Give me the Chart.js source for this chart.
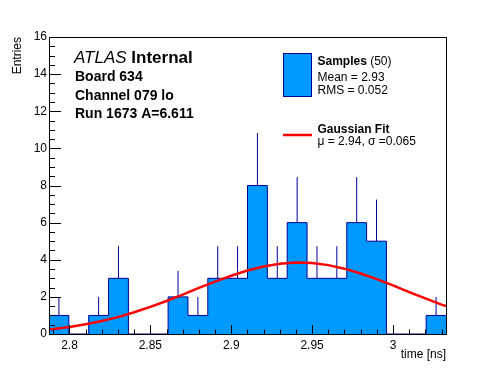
<!DOCTYPE html>
<html><head><meta charset="utf-8">
<script src="https://cdn.jsdelivr.net/npm/chart.js@4.4.1/dist/chart.umd.min.js"></script>
<style>html,body{margin:0;padding:0;background:#fff;}canvas{display:block;}</style>
</head><body>
<canvas id="c" width="496" height="372"></canvas>
<script>
// ---- data ----
const binLowEdges = [2.78733, 2.79960, 2.81187, 2.82415, 2.83642, 2.84869, 2.86096, 2.87323, 2.88551, 2.89778,
                     2.91005, 2.92232, 2.93459, 2.94687, 2.95914, 2.97141, 2.98368, 2.99595, 3.00823, 3.02050];
const binUpperEdge = 3.03277;
const counts = [1, 0, 1, 3, 0, 0, 2, 1, 3, 3, 8, 3, 6, 3, 3, 6, 5, 0, 0, 1];
const errors = [1, 0, 1, 1.73, 0, 0, 1.41, 1, 1.73, 1.73, 2.83, 1.73, 2.45, 1.73, 1.73, 2.45, 2.24, 0, 0, 1];
const fitX = [2.7873, 2.79, 2.80, 2.81, 2.82, 2.83, 2.84, 2.85, 2.86, 2.87, 2.88, 2.89, 2.90, 2.91, 2.92,
              2.93, 2.94, 2.95, 2.96, 2.97, 2.98, 2.99, 3.00, 3.01, 3.02, 3.03, 3.0328];
const fitY = [0.25, 0.27, 0.38, 0.52, 0.70, 0.91, 1.17, 1.46, 1.78, 2.12, 2.48, 2.82, 3.14, 3.42, 3.64,
              3.79, 3.85, 3.82, 3.71, 3.52, 3.26, 2.96, 2.62, 2.26, 1.92, 1.58, 1.51];
const xTickValues = [2.8, 2.85, 2.9, 2.95, 3.0];
const xTickLabels = ['2.8', '2.85', '2.9', '2.95', '3'];
const yTickValues = [0, 2, 4, 6, 8, 10, 12, 14, 16];
const yTickLabels = ['0', '2', '4', '6', '8', '10', '12', '14', '16'];
const xMinorStep = 0.01;
const yMinorStep = 0.5;
const xRange = [2.78733, 3.03277];
const yRange = [0, 16];
const labelLines = ['Board 634', 'Channel 079 lo', 'Run 1673 A=6.611'];
const legendSamples = ['Samples', ' (50)', 'Mean = 2.93', 'RMS = 0.052'];
const legendFit = ['Gaussian Fit', 'μ = 2.94, σ =0.065'];

// ---- build library datasets ----
const histPoints = binLowEdges.map((e, i) => ({x: e, y: counts[i]}));
histPoints.push({x: binUpperEdge, y: counts[counts.length - 1]});
const errPoints = [];
counts.forEach((c, i) => {
  if (c > 0) {
    const hi = i + 1 < binLowEdges.length ? binLowEdges[i + 1] : binUpperEdge;
    const xc = (binLowEdges[i] + hi) / 2;
    errPoints.push({x: xc, y: c}, {x: xc, y: c + errors[i]}, {x: xc, y: null});
  }
});
const fitPoints = fitX.map((x, i) => ({x, y: fitY[i]}));

const FILL = '#0099ff', NAVY = '#000099', RED = '#ff0000';
const FONT = '"Liberation Sans", Arial, Helvetica, sans-serif';

const decor = {
  id: 'decor',
  afterDraw(chart) {
    const ctx = chart.ctx, a = chart.chartArea, xs = chart.scales.x, ys = chart.scales.y;
    ctx.save();
    ctx.strokeStyle = '#000'; ctx.lineWidth = 1;
    // inward ticks
    ctx.beginPath();
    const nX = Math.round((xRange[1] - 2.79) / xMinorStep);
    for (let k = 0; k <= nX; k++) {
      const v = 2.79 + k * xMinorStep;
      if (v > xRange[1]) break;
      const major = xTickValues.some(t => Math.abs(t - v) < 1e-6);
      const px = Math.round(xs.getPixelForValue(v)) + 0.5;
      ctx.moveTo(px, a.bottom); ctx.lineTo(px, a.bottom - (major ? 9 : 4.5));
    }
    for (let v = yRange[0]; v <= yRange[1] + 1e-9; v += yMinorStep) {
      const major = yTickValues.some(t => Math.abs(t - v) < 1e-6);
      const py = Math.round(ys.getPixelForValue(v)) + 0.5;
      ctx.moveTo(a.left, py); ctx.lineTo(a.left + (major ? 12 : 6), py);
    }
    ctx.stroke();
    // frame
    ctx.strokeRect(Math.round(a.left) + 0.5, Math.round(a.top) + 0.5, Math.round(a.right - a.left), Math.round(a.bottom - a.top));

    ctx.fillStyle = '#000';
    ctx.textBaseline = 'alphabetic';
    ctx.textAlign = 'left';
    // ATLAS label
    ctx.font = 'italic 17px ' + FONT;
    ctx.fillText('ATLAS', 74, 63);
    const w = ctx.measureText('ATLAS ').width;
    ctx.font = 'bold 17px ' + FONT;
    ctx.fillText('Internal', 74 + w, 63);
    ctx.font = 'bold 14px ' + FONT;
    ctx.fillText(labelLines[0], 75, 81);
    ctx.fillText(labelLines[1], 75, 99.5);
    ctx.fillText(labelLines[2], 75, 118);

    // legend
    ctx.fillStyle = FILL; ctx.fillRect(283.5, 53.5, 28, 43);
    ctx.strokeStyle = NAVY; ctx.strokeRect(283.5, 53.5, 28, 43);
    ctx.fillStyle = '#000';
    ctx.font = 'bold 12px ' + FONT;
    ctx.fillText(legendSamples[0], 317.5, 65);
    const ws = ctx.measureText(legendSamples[0]).width;
    ctx.font = '12px ' + FONT;
    ctx.fillText(legendSamples[1], 317.5 + ws, 65);
    ctx.fillText(legendSamples[2], 317.5, 81);
    ctx.fillText(legendSamples[3], 317.5, 93.5);
    ctx.strokeStyle = RED; ctx.lineWidth = 2.5;
    ctx.beginPath(); ctx.moveTo(283, 135); ctx.lineTo(312, 135); ctx.stroke();
    ctx.font = 'bold 12px ' + FONT;
    ctx.fillText(legendFit[0], 317.5, 132.5);
    ctx.font = '12px ' + FONT;
    ctx.fillText(legendFit[1], 317.5, 144.5);

    // axis titles
    ctx.font = '12px ' + FONT;
    ctx.textAlign = 'right';
    ctx.fillText('time [ns]', 446, 358);
    ctx.translate(18, 37);
    ctx.rotate(-Math.PI / 2);
    ctx.textBaseline = 'middle';
    ctx.fillText('Entries', 0, 0);
    ctx.restore();
  }
};

new Chart(document.getElementById('c'), {
  type: 'line',
  data: {
    datasets: [
      {label: 'Gaussian Fit', data: fitPoints, borderColor: RED, borderWidth: 2.5, pointRadius: 0, fill: false, tension: 0},
      {label: 'errors', data: errPoints, borderColor: NAVY, borderWidth: 1, pointRadius: 0, fill: false, spanGaps: false},
      {label: 'Samples', data: histPoints, stepped: 'before', borderColor: NAVY, borderWidth: 1, backgroundColor: FILL, fill: 'origin', pointRadius: 0}
    ]
  },
  options: {
    responsive: false,
    animation: false,
    devicePixelRatio: 1,
    layout: {padding: {left: 0, top: 37, right: 50, bottom: 0}},
    plugins: {legend: {display: false}, tooltip: {enabled: false}},
    scales: {
      x: {
        type: 'linear', min: xRange[0], max: xRange[1],
        grid: {display: false, drawTicks: false}, border: {display: false},
        afterBuildTicks: s => { s.ticks = xTickValues.map(v => ({value: v})); },
        afterFit: s => { s.height = 38; },
        ticks: {padding: 4, color: '#000', font: {family: FONT, size: 12}, maxRotation: 0,
                callback: (v) => { const i = xTickValues.findIndex(t => Math.abs(t - v) < 1e-6); return i >= 0 ? xTickLabels[i] : ''; }}
      },
      y: {
        type: 'linear', min: yRange[0], max: yRange[1],
        grid: {display: false, drawTicks: false}, border: {display: false},
        afterBuildTicks: s => { s.ticks = yTickValues.map(v => ({value: v})); },
        afterFit: s => { s.width = 49; },
        ticks: {padding: 2, color: '#000', font: {family: FONT, size: 12},
                callback: (v) => { const i = yTickValues.indexOf(v); return i >= 0 ? yTickLabels[i] : ''; }}
      }
    }
  },
  plugins: [decor]
});
</script>
</body></html>
